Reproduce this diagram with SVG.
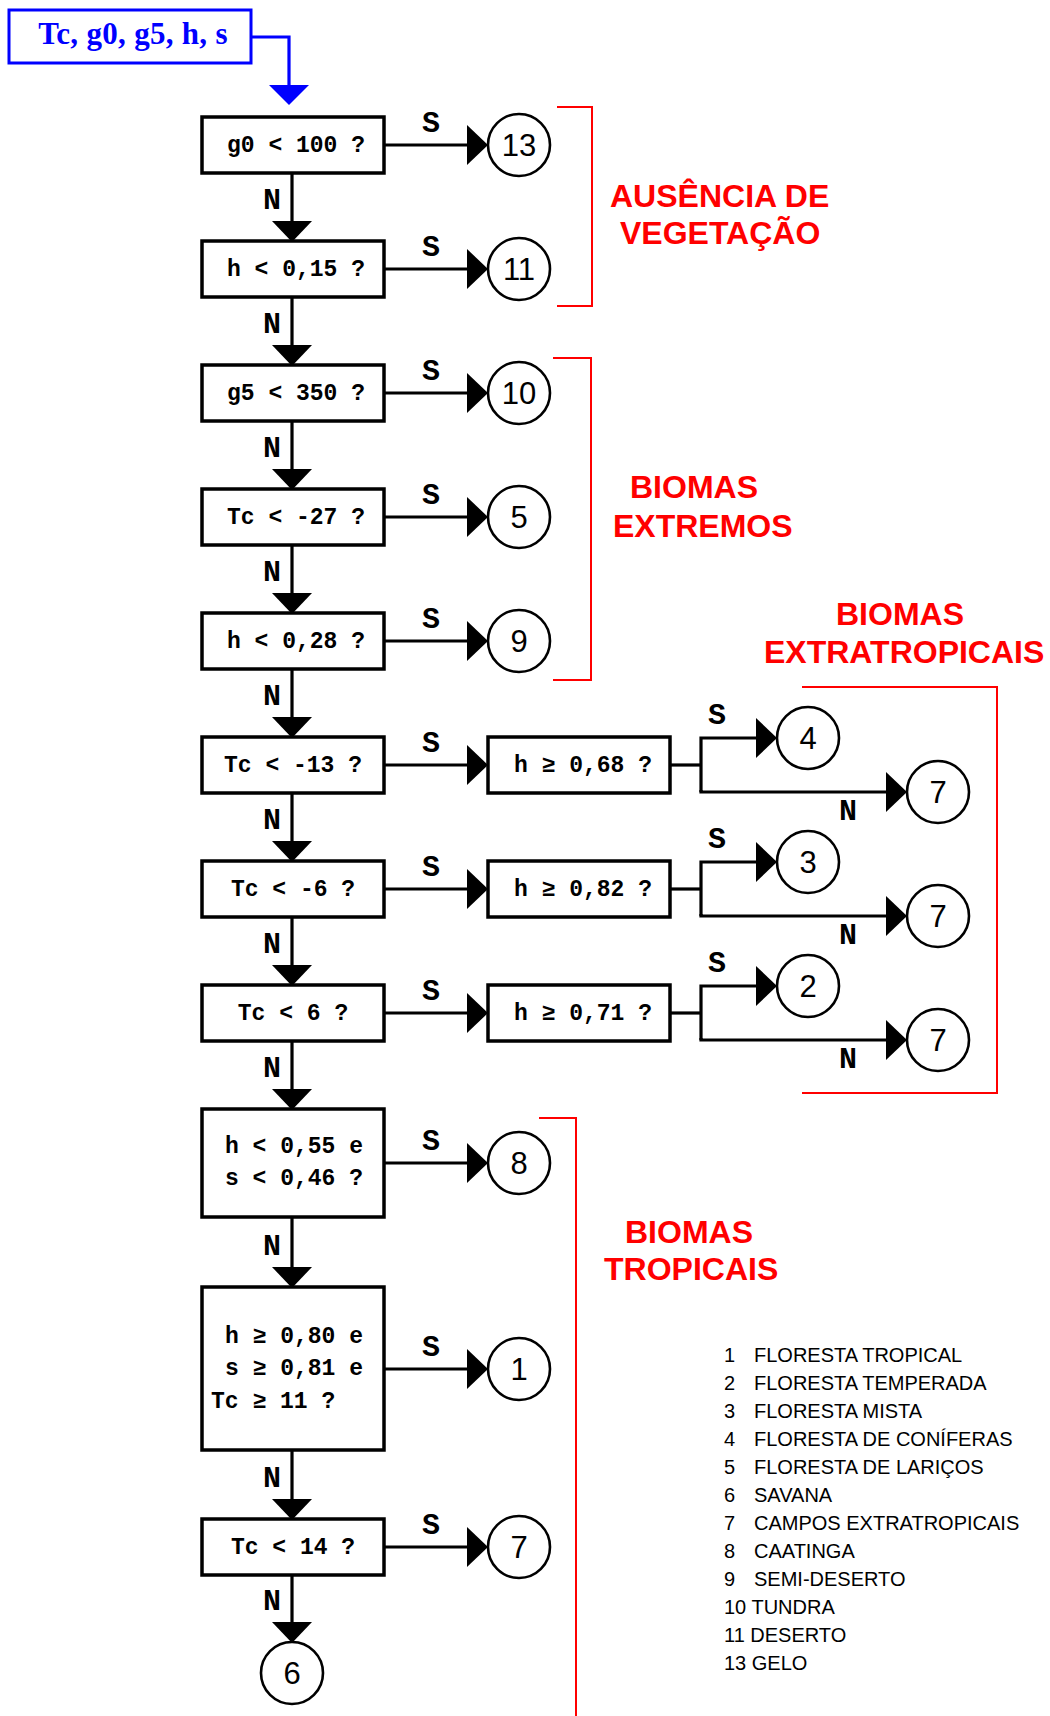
<svg xmlns="http://www.w3.org/2000/svg" width="1050" height="1716" viewBox="0 0 1050 1716">
<style>
.box{fill:#fff;stroke:#000;stroke-width:3.5}
.circ{fill:#fff;stroke:#000;stroke-width:2.6}
.ln{fill:none;stroke:#000;stroke-width:3.2}
.br{fill:none;stroke:#ff0000;stroke-width:2}
.q{font-family:"Liberation Mono",monospace;font-weight:bold;font-size:23px;fill:#000}
.qm{text-anchor:middle}
.lab{font-family:"Liberation Mono",monospace;font-weight:bold;font-size:30px;fill:#000;text-anchor:middle}
.num{font-family:"Liberation Sans",Arial,sans-serif;font-size:31px;fill:#000;text-anchor:middle}
.red{font-family:"Liberation Sans",Arial,sans-serif;font-weight:bold;font-size:32px;fill:#ff0000}
.leg{font-family:"Liberation Sans",Arial,sans-serif;font-size:20px;fill:#000}
</style>
<defs>
<marker id="ah" markerUnits="userSpaceOnUse" markerWidth="22" markerHeight="40" viewBox="0 0 21 40" refX="0" refY="20" orient="auto">
<path d="M0,0 L21,20 L0,40 Z" fill="#000"/>
</marker>
<marker id="ahb" markerUnits="userSpaceOnUse" markerWidth="22" markerHeight="40" viewBox="0 0 20 40" refX="0" refY="20" orient="auto">
<path d="M0,0 L20,20 L0,40 Z" fill="#0000ff"/>
</marker>
</defs>

<g id="connectors">
<path d="M251,37 H289 V85" fill="none" stroke="#0000ff" stroke-width="3.2" marker-end="url(#ahb)"/>
<path class="ln" d="M292,173 V221" marker-end="url(#ah)"/>
<path class="ln" d="M292,297 V345" marker-end="url(#ah)"/>
<path class="ln" d="M292,421 V469" marker-end="url(#ah)"/>
<path class="ln" d="M292,545 V593" marker-end="url(#ah)"/>
<path class="ln" d="M292,669 V717" marker-end="url(#ah)"/>
<path class="ln" d="M292,793 V841" marker-end="url(#ah)"/>
<path class="ln" d="M292,917 V965" marker-end="url(#ah)"/>
<path class="ln" d="M292,1041 V1089" marker-end="url(#ah)"/>
<path class="ln" d="M292,1217 V1267" marker-end="url(#ah)"/>
<path class="ln" d="M292,1450 V1499" marker-end="url(#ah)"/>
<path class="ln" d="M292,1575 V1622" marker-end="url(#ah)"/>
<path class="ln" d="M384,145 H467" marker-end="url(#ah)"/>
<path class="ln" d="M384,269 H467" marker-end="url(#ah)"/>
<path class="ln" d="M384,393 H467" marker-end="url(#ah)"/>
<path class="ln" d="M384,517 H467" marker-end="url(#ah)"/>
<path class="ln" d="M384,641 H467" marker-end="url(#ah)"/>
<path class="ln" d="M384,765 H467" marker-end="url(#ah)"/>
<path class="ln" d="M384,889 H467" marker-end="url(#ah)"/>
<path class="ln" d="M384,1013 H467" marker-end="url(#ah)"/>
<path class="ln" d="M384,1163 H467" marker-end="url(#ah)"/>
<path class="ln" d="M384,1369 H467" marker-end="url(#ah)"/>
<path class="ln" d="M384,1547 H467" marker-end="url(#ah)"/>
<path class="ln" d="M670,765 H701"/>
<path class="ln" d="M701,792 V738 H756" marker-end="url(#ah)"/>
<path class="ln" d="M701,790 V792 H886" marker-end="url(#ah)"/>
<path class="ln" d="M670,889 H701"/>
<path class="ln" d="M701,916 V862 H756" marker-end="url(#ah)"/>
<path class="ln" d="M701,914 V916 H886" marker-end="url(#ah)"/>
<path class="ln" d="M670,1013 H701"/>
<path class="ln" d="M701,1040 V986 H756" marker-end="url(#ah)"/>
<path class="ln" d="M701,1038 V1040 H886" marker-end="url(#ah)"/>
<g class="lab">
<text x="431" y="132">S</text>
<text x="431" y="256">S</text>
<text x="431" y="380">S</text>
<text x="431" y="504">S</text>
<text x="431" y="628">S</text>
<text x="431" y="752">S</text>
<text x="431" y="876">S</text>
<text x="431" y="1000">S</text>
<text x="431" y="1150">S</text>
<text x="431" y="1356">S</text>
<text x="431" y="1534">S</text>
<text x="272" y="209">N</text>
<text x="272" y="333">N</text>
<text x="272" y="457">N</text>
<text x="272" y="581">N</text>
<text x="272" y="705">N</text>
<text x="272" y="829">N</text>
<text x="272" y="953">N</text>
<text x="272" y="1077">N</text>
<text x="272" y="1255">N</text>
<text x="272" y="1487">N</text>
<text x="272" y="1610">N</text>
<text x="717" y="724">S</text>
<text x="717" y="848">S</text>
<text x="717" y="972">S</text>
<text x="848" y="820">N</text>
<text x="848" y="944">N</text>
<text x="848" y="1068">N</text>
</g>
</g>

<g id="input">
<rect x="9" y="10" width="242" height="53" fill="#fff" stroke="#0000ff" stroke-width="3"/>
<text x="133" y="44" font-family="'Liberation Serif',serif" font-weight="bold" font-size="31" fill="#0000ff" text-anchor="middle" letter-spacing="0.3">Tc, g0, g5, h, s</text>
</g>

<g id="q1"><rect class="box" x="202" y="117" width="182" height="56"/><text class="q qm" x="296" y="152">g0 &lt; 100 ?</text></g>
<g id="q2"><rect class="box" x="202" y="241" width="182" height="56"/><text class="q qm" x="296" y="276">h &lt; 0,15 ?</text></g>
<g id="q3"><rect class="box" x="202" y="365" width="182" height="56"/><text class="q qm" x="296" y="400">g5 &lt; 350 ?</text></g>
<g id="q4"><rect class="box" x="202" y="489" width="182" height="56"/><text class="q qm" x="296" y="524">Tc &lt; -27 ?</text></g>
<g id="q5"><rect class="box" x="202" y="613" width="182" height="56"/><text class="q qm" x="296" y="648">h &lt; 0,28 ?</text></g>
<g id="q6"><rect class="box" x="202" y="737" width="182" height="56"/><text class="q qm" x="293" y="772">Tc &lt; -13 ?</text></g>
<g id="q7"><rect class="box" x="202" y="861" width="182" height="56"/><text class="q qm" x="293" y="896">Tc &lt; -6 ?</text></g>
<g id="q8"><rect class="box" x="202" y="985" width="182" height="56"/><text class="q qm" x="293" y="1020">Tc &lt; 6 ?</text></g>
<g id="q6b"><rect class="box" x="488" y="737" width="182" height="56"/><text class="q qm" x="583" y="772">h ≥ 0,68 ?</text></g>
<g id="q7b"><rect class="box" x="488" y="861" width="182" height="56"/><text class="q qm" x="583" y="896">h ≥ 0,82 ?</text></g>
<g id="q8b"><rect class="box" x="488" y="985" width="182" height="56"/><text class="q qm" x="583" y="1020">h ≥ 0,71 ?</text></g>
<g id="q9"><rect class="box" x="202" y="1109" width="182" height="108"/><text class="q" x="225" y="1153">h &lt; 0,55 e</text><text class="q" x="225" y="1185">s &lt; 0,46 ?</text></g>
<g id="q10"><rect class="box" x="202" y="1287" width="182" height="163"/><text class="q" x="225" y="1343">h ≥ 0,80 e</text><text class="q" x="225" y="1375">s ≥ 0,81 e</text><text class="q" x="211" y="1408">Tc ≥ 11 ?</text></g>
<g id="q11"><rect class="box" x="202" y="1519" width="182" height="56"/><text class="q qm" x="293" y="1554">Tc &lt; 14 ?</text></g>

<g id="r13"><circle class="circ" cx="519" cy="145" r="31"/><text class="num" x="519" y="156">13</text></g>
<g id="r11"><circle class="circ" cx="519" cy="269" r="31"/><text class="num" x="519" y="280">11</text></g>
<g id="r10"><circle class="circ" cx="519" cy="393" r="31"/><text class="num" x="519" y="404">10</text></g>
<g id="r5"><circle class="circ" cx="519" cy="517" r="31"/><text class="num" x="519" y="528">5</text></g>
<g id="r9"><circle class="circ" cx="519" cy="641" r="31"/><text class="num" x="519" y="652">9</text></g>
<g id="r4"><circle class="circ" cx="808" cy="738" r="31"/><text class="num" x="808" y="749">4</text></g>
<g id="r7a"><circle class="circ" cx="938" cy="792" r="31"/><text class="num" x="938" y="803">7</text></g>
<g id="r3"><circle class="circ" cx="808" cy="862" r="31"/><text class="num" x="808" y="873">3</text></g>
<g id="r7b"><circle class="circ" cx="938" cy="916" r="31"/><text class="num" x="938" y="927">7</text></g>
<g id="r2"><circle class="circ" cx="808" cy="986" r="31"/><text class="num" x="808" y="997">2</text></g>
<g id="r7c"><circle class="circ" cx="938" cy="1040" r="31"/><text class="num" x="938" y="1051">7</text></g>
<g id="r8"><circle class="circ" cx="519" cy="1163" r="31"/><text class="num" x="519" y="1174">8</text></g>
<g id="r1"><circle class="circ" cx="519" cy="1369" r="31"/><text class="num" x="519" y="1380">1</text></g>
<g id="r7d"><circle class="circ" cx="519" cy="1547" r="31"/><text class="num" x="519" y="1558">7</text></g>
<g id="r6"><circle class="circ" cx="292" cy="1673" r="31"/><text class="num" x="292" y="1684">6</text></g>

<g id="groups">
<path class="br" d="M557,107 H592 V306 H557"/>
<path class="br" d="M553,358 H591 V680 H553"/>
<path class="br" d="M802,687 H997 V1093 H802"/>
<path class="br" d="M539,1118 H576 V1716"/>
<text class="red" x="610" y="207">AUSÊNCIA DE</text>
<text class="red" x="620" y="244">VEGETAÇÃO</text>
<text class="red" x="630" y="498">BIOMAS</text>
<text class="red" x="613" y="537">EXTREMOS</text>
<text class="red" x="836" y="625">BIOMAS</text>
<text class="red" x="764" y="663">EXTRATROPICAIS</text>
<text class="red" x="625" y="1243">BIOMAS</text>
<text class="red" x="604" y="1280">TROPICAIS</text>
</g>

<g id="legend" class="leg">
<text x="724" y="1362">1<tspan x="754">FLORESTA TROPICAL</tspan></text>
<text x="724" y="1390">2<tspan x="754">FLORESTA TEMPERADA</tspan></text>
<text x="724" y="1418">3<tspan x="754">FLORESTA MISTA</tspan></text>
<text x="724" y="1446">4<tspan x="754">FLORESTA DE CONÍFERAS</tspan></text>
<text x="724" y="1474">5<tspan x="754">FLORESTA DE LARIÇOS</tspan></text>
<text x="724" y="1502">6<tspan x="754">SAVANA</tspan></text>
<text x="724" y="1530">7<tspan x="754">CAMPOS EXTRATROPICAIS</tspan></text>
<text x="724" y="1558">8<tspan x="754">CAATINGA</tspan></text>
<text x="724" y="1586">9<tspan x="754">SEMI-DESERTO</tspan></text>
<text x="724" y="1614">10 TUNDRA</text>
<text x="724" y="1642">11 DESERTO</text>
<text x="724" y="1670">13 GELO</text>
</g>
</svg>
